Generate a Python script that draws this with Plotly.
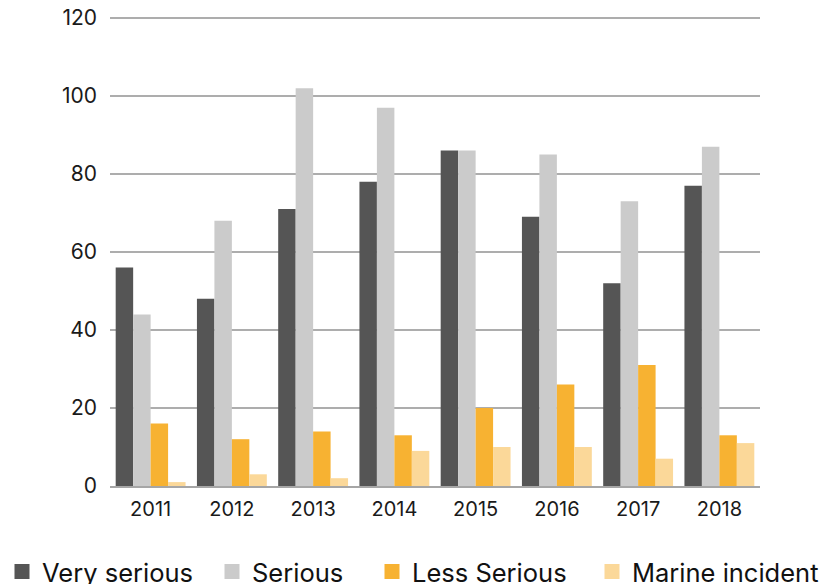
import plotly.graph_objects as go

years = ["2011", "2012", "2013", "2014", "2015", "2016", "2017", "2018"]
very_serious = [56, 48, 71, 78, 86, 69, 52, 77]
serious = [44, 68, 102, 97, 86, 85, 73, 87]
less_serious = [16, 12, 14, 13, 20, 26, 31, 13]
marine_incident = [1, 3, 2, 9, 10, 10, 7, 11]
y_ticks = [0, 20, 40, 60, 80, 100, 120]

series_names = ["Very serious", "Serious", "Less Serious", "Marine incident"]
series_values = [very_serious, serious, less_serious, marine_incident]
series_colors = ["#555555", "#cbcbcb", "#f7b232", "#fbd899"]
legend_ids = ["legend", "legend2", "legend3", "legend4"]
legend_x_px = [-6, 204, 364, 584]

W, H = 824, 576  # page body has an 8px margin
ML, MR = 102, 72
PW = W - ML - MR

fig = go.Figure()
for name, vals, col in zip(series_names, series_values, series_colors):
    fig.add_trace(go.Bar(x=years, y=vals, name=name, showlegend=False,
                         marker=dict(color=col, line=dict(width=0))))
for name, col, lid in zip(series_names, series_colors, legend_ids):
    fig.add_trace(go.Scatter(x=[None], y=[None], mode="markers", name=name, legend=lid,
                             marker=dict(symbol="square", size=15, color=col)))

legend_font = dict(family="Inter, Roboto, sans-serif", size=25.5, color="#111111")
layout_legends = {}
for lid, xp in zip(legend_ids, legend_x_px):
    layout_legends[lid] = dict(orientation="h", xref="paper", yref="container",
                               x=(xp - ML) / PW, xanchor="left", y=12 / H, yanchor="middle",
                               font=legend_font, itemwidth=30, bgcolor="rgba(0,0,0,0)")

fig.update_layout(
    width=W, height=H,
    margin=dict(l=ML, r=MR, t=8, b=98, autoexpand=False),
    plot_bgcolor="white", paper_bgcolor="white",
    barmode="group", bargap=0.14, bargroupgap=0,
    font=dict(family="Inter, Lato, sans-serif", size=20, color="#1a1a1a"),
    xaxis=dict(showgrid=False, showline=True, linecolor="#a6a6a6", linewidth=2,
               ticks="", tickfont=dict(size=20), ticklabelstandoff=4,
               ticklabeloverflow="allow"),
    yaxis=dict(range=[0, 120.5], tickvals=y_ticks, showgrid=True, gridcolor="#adadad",
               gridwidth=2, zeroline=False, showline=False, ticks="",
               tickfont=dict(size=21), ticklabelstandoff=12, ticklabeloverflow="allow"),
    **layout_legends,
)
fig.write_html("out.html")
